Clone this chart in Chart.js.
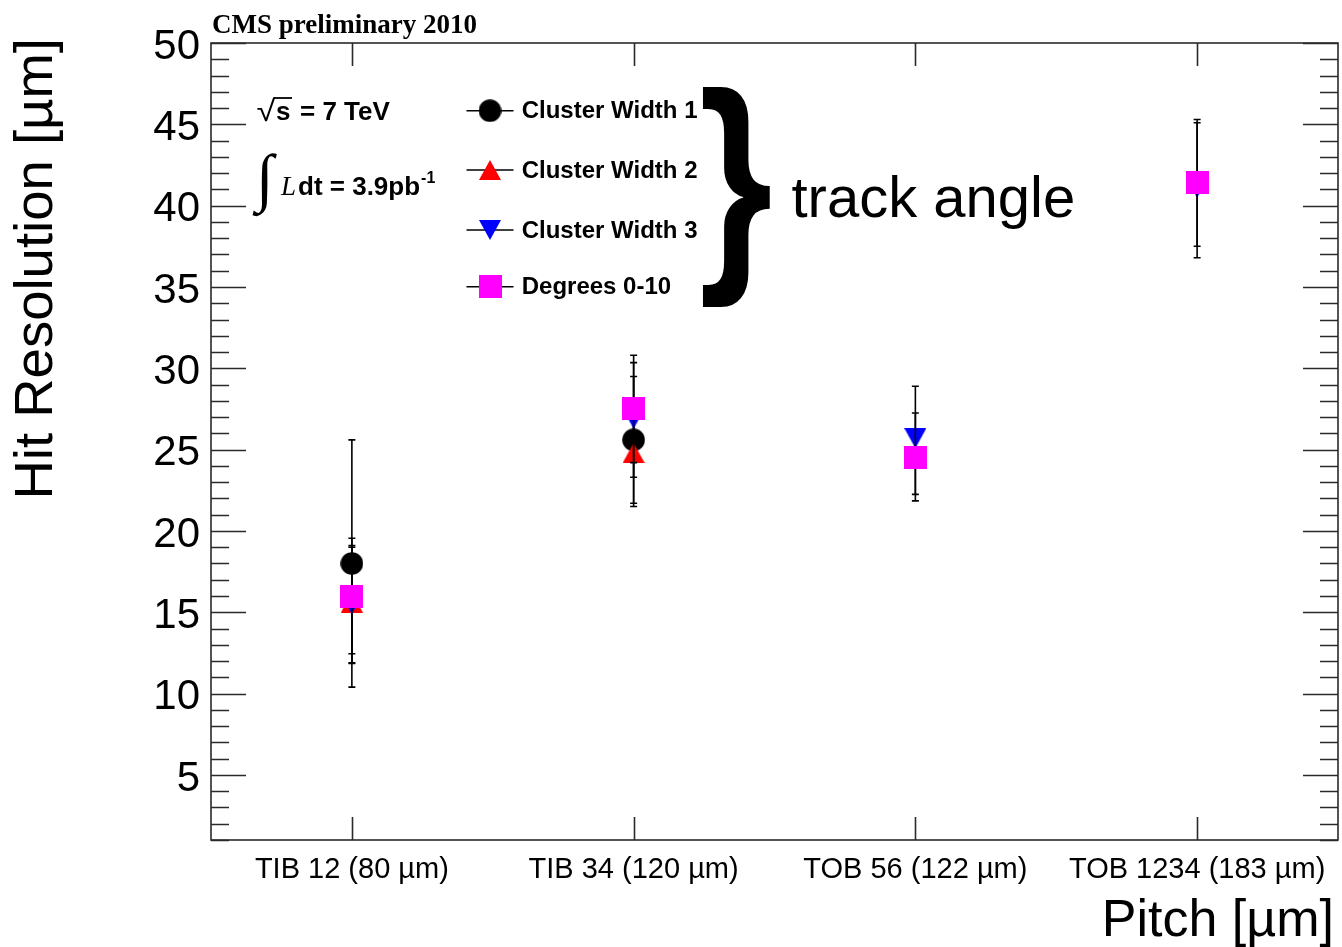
<!DOCTYPE html>
<html>
<head>
<meta charset="utf-8">
<script src="https://cdn.jsdelivr.net/npm/chart.js@4.4.0/dist/chart.umd.min.js"></script>
<style>
  html, body { margin: 0; padding: 0; background: #ffffff; }
  #wrap { width: 1342px; height: 947px; }
</style>
</head>
<body>
<div id="wrap"><canvas id="c" width="1342" height="947"></canvas></div>
<script>
// ---------- data ----------
const categories = ['TIB 12 (80 \u00b5m)', 'TIB 34 (120 \u00b5m)', 'TOB 56 (122 \u00b5m)', 'TOB 1234 (183 \u00b5m)'];

const cw1      = [18.0, 25.6, null, null];
const cw1Low   = [10.4, 21.7, null, null];
const cw1High  = [25.6, 29.5, null, null];

const cw2      = [15.6, 24.8, null, null];
const cw2Low   = [11.9, 21.5, null, null];
const cw2High  = [19.1, 28.1, null, null];

const cw3      = [15.5, 26.9, 25.7, 41.1];
const cw3Low   = [11.85, 23.3, 22.25, 36.8];
const cw3High  = [19.0, 30.35, 28.9, 45.1];

const deg      = [16.0, 27.5, 24.5, 41.4];
const degLow   = [12.45, 24.2, 21.85, 37.5];
const degHigh  = [19.55, 30.8, 27.25, 45.3];

const seriesNames = ['Cluster Width 1', 'Cluster Width 2', 'Cluster Width 3', 'Degrees 0-10'];
const yTicks = [5, 10, 15, 20, 25, 30, 35, 40, 45, 50];
const yMin = 1, yMax = 50;

const errLow  = [cw1Low, cw2Low, cw3Low, degLow];
const errHigh = [cw1High, cw2High, cw3High, degHigh];

// ---------- marker images (ROOT-like, centred on their bounding box) ----------
function makeMarker(kind, color) {
  const c = document.createElement('canvas');
  const g = c.getContext('2d');
  if (kind === 'circle') {
    c.width = 23; c.height = 23;
    g.fillStyle = color;
    g.beginPath(); g.arc(11.5, 11.5, 11.3, 0, Math.PI * 2); g.fill();
  } else if (kind === 'up') {
    c.width = 22; c.height = 20;
    g.fillStyle = color;
    g.beginPath(); g.moveTo(0, 20); g.lineTo(11, 0); g.lineTo(22, 20); g.closePath(); g.fill();
  } else if (kind === 'down') {
    c.width = 22; c.height = 20;
    g.fillStyle = color;
    g.beginPath(); g.moveTo(0, 0); g.lineTo(22, 0); g.lineTo(11, 20); g.closePath(); g.fill();
  } else {
    c.width = 23; c.height = 23;
    g.fillStyle = color;
    g.fillRect(0, 0, 23, 23);
  }
  return c;
}
const markerCW1 = makeMarker('circle', '#000000');
const markerCW2 = makeMarker('up', '#ff0000');
const markerCW3 = makeMarker('down', '#0000ff');
const markerDeg = makeMarker('square', '#ff00ff');

const SANS = '"Liberation Sans", Arial, sans-serif';
const SERIF = '"Liberation Serif", "Times New Roman", serif';

// draw a glyph stretched to fill a given ink box
function fitGlyph(ctx, ch, font, x0, y0, w, h) {
  ctx.save();
  ctx.font = font;
  ctx.textAlign = 'left'; ctx.textBaseline = 'alphabetic';
  const m = ctx.measureText(ch);
  const inkW = m.actualBoundingBoxLeft + m.actualBoundingBoxRight;
  const inkH = m.actualBoundingBoxAscent + m.actualBoundingBoxDescent;
  ctx.translate(x0, y0);
  ctx.scale(w / inkW, h / inkH);
  ctx.fillText(ch, m.actualBoundingBoxLeft, m.actualBoundingBoxAscent);
  ctx.restore();
}

// error bars drawn just before each dataset's markers
const errorBars = {
  id: 'errorBars',
  beforeDatasetDraw(chart, args) {
    const ctx = chart.ctx;
    const xs = chart.scales.x, ys = chart.scales.y;
    const i = args.index;
    const lo = errLow[i], hi = errHigh[i];
    ctx.save();
    ctx.strokeStyle = '#000';
    ctx.lineWidth = 1.6;
    for (let j = 0; j < categories.length; j++) {
      if (lo[j] == null || hi[j] == null) continue;
      const x = xs.getPixelForValue(j);
      const y1 = ys.getPixelForValue(hi[j]);
      const y2 = ys.getPixelForValue(lo[j]);
      ctx.beginPath();
      ctx.moveTo(x, y1); ctx.lineTo(x, y2);
      ctx.moveTo(x - 3.5, y1); ctx.lineTo(x + 3.5, y1);
      ctx.moveTo(x - 3.5, y2); ctx.lineTo(x + 3.5, y2);
      ctx.stroke();
    }
    ctx.restore();
  }
};

// frame, inside ticks, texts, legend
const decorations = {
  id: 'decorations',
  afterDraw(chart) {
    const ctx = chart.ctx;
    const a = chart.chartArea;
    const xs = chart.scales.x, ys = chart.scales.y;
    ctx.save();
    // frame
    ctx.strokeStyle = '#2a2a2a';
    ctx.lineWidth = 1.6;
    ctx.strokeRect(a.left, a.top, a.right - a.left, a.bottom - a.top);
    // y ticks (minor each unit, major each 5)
    ctx.beginPath();
    for (let v = Math.ceil(ys.min); v <= ys.max; v++) {
      const y = Math.round(ys.getPixelForValue(v)) + 0.5;
      const len = (v % 5 === 0) ? 35 : 18;
      ctx.moveTo(a.left, y); ctx.lineTo(a.left + len, y);
      ctx.moveTo(a.right, y); ctx.lineTo(a.right - len, y);
    }
    // x ticks at categories
    for (let j = 0; j < categories.length; j++) {
      const x = Math.round(xs.getPixelForValue(j)) + 0.5;
      ctx.moveTo(x, a.bottom); ctx.lineTo(x, a.bottom - 23);
      ctx.moveTo(x, a.top); ctx.lineTo(x, a.top + 23);
    }
    ctx.stroke();

    ctx.fillStyle = '#000';
    // header
    ctx.font = 'bold 27px ' + SERIF;
    ctx.textAlign = 'left'; ctx.textBaseline = 'alphabetic';
    ctx.fillText('CMS preliminary 2010', 212, 33);

    // axis titles
    ctx.font = '52px ' + SANS;
    ctx.textAlign = 'right';
    ctx.fillText('Pitch [\u00b5m]', 1334, 936);
    ctx.save();
    ctx.font = '54.5px ' + SANS;
    ctx.translate(52, 38);
    ctx.rotate(-Math.PI / 2);
    ctx.textAlign = 'right';
    ctx.fillText('Hit Resolution [\u00b5m]', 0, 0);
    ctx.restore();

    // sqrt(s) = 7 TeV
    ctx.textAlign = 'left';
    fitGlyph(ctx, '\u221a', '30px ' + SANS, 256.5, 97, 19.5, 25);
    ctx.font = 'bold 26px ' + SANS;
    ctx.fillText('s', 276, 120);
    ctx.strokeStyle = '#000'; ctx.lineWidth = 1.8;
    ctx.beginPath();
    ctx.moveTo(274, 98); ctx.lineTo(292, 98);
    ctx.stroke();
    ctx.fillText('= 7 TeV', 300, 120);

    // integral L dt
    ctx.font = '64px ' + SERIF;
    ctx.fillText('\u222b', 256, 199);
    ctx.font = 'italic 27px ' + SERIF;
    ctx.fillText('L', 281, 195);
    ctx.font = 'bold 26px ' + SANS;
    ctx.fillText('dt = 3.9pb', 298, 195);
    const w = ctx.measureText('dt = 3.9pb').width;
    ctx.font = 'bold 16px ' + SANS;
    ctx.fillText('-1', 298 + w + 1, 183);

    // legend
    const legendY = [110.7, 170, 230, 286.7];
    const styles = chart.data.datasets;
    for (let k = 0; k < 4; k++) {
      const img = styles[k].pointStyle;
      ctx.strokeStyle = '#000'; ctx.lineWidth = 1.5;
      ctx.beginPath();
      ctx.moveTo(466.5, legendY[k]); ctx.lineTo(513.5, legendY[k]);
      ctx.stroke();
      ctx.drawImage(img, 490 - img.width / 2, legendY[k] - img.height / 2);
      ctx.fillStyle = '#000';
      ctx.font = 'bold 24px ' + SANS;
      ctx.textBaseline = 'middle';
      ctx.fillText(seriesNames[k], 521.7, legendY[k] + 1);
      ctx.textBaseline = 'alphabetic';
    }

    // big brace fitted into its box, then label
    fitGlyph(ctx, '}', 'bold 240px ' + SANS, 703, 87, 67, 220);
    ctx.fillStyle = '#000';
    ctx.font = '58px ' + SANS;
    ctx.textAlign = 'left';
    ctx.fillText('track angle', 791.5, 216.5);

    ctx.restore();
  }
};

const pointCommon = { showLine: false, pointBorderWidth: 0, pointHoverRadius: 0, pointRadius: 11 };

new Chart(document.getElementById('c'), {
  type: 'line',
  data: {
    labels: categories,
    datasets: [
      Object.assign({ label: seriesNames[0], data: cw1, pointStyle: markerCW1, borderColor: '#000000', order: 4 }, pointCommon),
      Object.assign({ label: seriesNames[1], data: cw2, pointStyle: markerCW2, borderColor: '#ff0000', order: 3 }, pointCommon),
      Object.assign({ label: seriesNames[2], data: cw3, pointStyle: markerCW3, borderColor: '#0000ff', order: 2 }, pointCommon),
      Object.assign({ label: seriesNames[3], data: deg, pointStyle: markerDeg, borderColor: '#ff00ff', order: 1 }, pointCommon)
    ]
  },
  options: {
    responsive: false,
    animation: false,
    devicePixelRatio: 1,
    events: [],
    layout: { autoPadding: false, padding: { top: 43, right: 4, left: 0, bottom: 0 } },
    plugins: { legend: { display: false }, tooltip: { enabled: false }, title: { display: false } },
    scales: {
      x: {
        type: 'category',
        offset: true,
        grid: { display: false, drawTicks: false },
        border: { display: false },
        ticks: { color: '#000', font: { family: SANS, size: 29 }, padding: 13, maxRotation: 0, autoSkip: false },
        afterFit(scale) { scale.height = 107; scale.paddingLeft = 0; scale.paddingRight = 0; }
      },
      y: {
        type: 'linear',
        min: yMin, max: yMax,
        grid: { display: false, drawTicks: false },
        border: { display: false },
        afterBuildTicks(scale) { scale.ticks = yTicks.map(v => ({ value: v })); },
        ticks: { color: '#000', font: { family: SANS, size: 42 }, padding: 11, labelOffset: 4 },
        afterFit(scale) { scale.width = 211; }
      }
    }
  },
  plugins: [errorBars, decorations]
});
</script>
</body>
</html>
